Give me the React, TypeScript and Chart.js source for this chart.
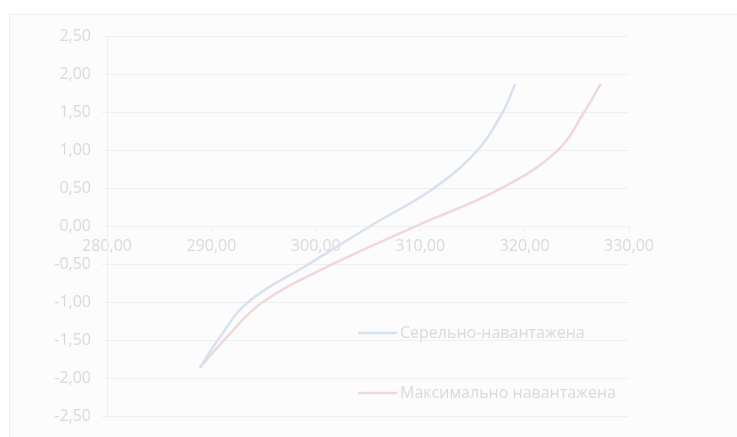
import React, { useEffect, useRef } from "react";
import { Chart, registerables } from "chart.js";

Chart.register(...registerables);

const seriesNames = ["Серельно-навантажена", "Максимально навантажена"];
const seriesColors = ["#d7e1ef", "#f0d8d8"];

const blueX = [288.9, 290.6, 293.5, 299.3, 305.2, 311.3, 315.5, 317.9, 319.1];
const blueY = [-1.86, -1.5, -1.0, -0.5, 0.0, 0.5, 1.0, 1.5, 1.87];
const redX = [288.9, 291.2, 294.9, 301.6, 309.6, 317.8, 323.2, 325.7, 327.3];
const redY = [-1.86, -1.5, -1.0, -0.5, 0.0, 0.5, 1.0, 1.5, 1.87];

const xTicksRange = { min: 280, max: 330, step: 10 };
const yTicksRange = { min: -2.5, max: 2.5, step: 0.5 };

const TEXT = "#d9d9d9";
const GRID = "#efefef";
const FONT = "'Open Sans', sans-serif";

const fmt = (v: number) => v.toFixed(2).replace(".", ",");

const legendPlugin = {
  id: "excelLegend",
  afterDraw(chart: any) {
    const ctx = chart.ctx;
    const rows = [333, 393];
    ctx.save();
    chart.data.datasets.forEach((ds: any, i: number) => {
      const y = rows[i];
      ctx.strokeStyle = ds.borderColor;
      ctx.lineWidth = 2.5;
      ctx.beginPath();
      ctx.moveTo(358, y);
      ctx.lineTo(397, y);
      ctx.stroke();
      ctx.fillStyle = TEXT;
      ctx.font = `16px ${FONT}`;
      ctx.textBaseline = "middle";
      ctx.textAlign = "left";
      ctx.fillText(ds.label, 400, y);
    });
    ctx.restore();
  },
};

export default function App() {
  const ref = useRef<HTMLCanvasElement | null>(null);
  useEffect(() => {
    if (!ref.current) return;
    const mk = (xs: number[], ys: number[]) => xs.map((x, i) => ({ x, y: ys[i] }));
    const chart = new Chart(ref.current, {
      type: "scatter",
      data: {
        datasets: [
          {
            label: seriesNames[0],
            data: mk(blueX, blueY),
            borderColor: seriesColors[0],
            backgroundColor: seriesColors[0],
            showLine: true,
            borderWidth: 2.5,
            pointRadius: 0,
            tension: 0.4,
          },
          {
            label: seriesNames[1],
            data: mk(redX, redY),
            borderColor: seriesColors[1],
            backgroundColor: seriesColors[1],
            showLine: true,
            borderWidth: 2.5,
            pointRadius: 0,
            tension: 0.4,
          },
        ],
      },
      options: {
        animation: false,
        responsive: false,
        maintainAspectRatio: false,
        layout: { padding: { left: 0, top: 36, right: 108, bottom: 19 } },
        plugins: { legend: { display: false }, tooltip: { enabled: false } },
        scales: {
          x: {
            type: "linear",
            position: { y: 0 } as any,
            min: xTicksRange.min,
            max: xTicksRange.max,
            ticks: {
              stepSize: xTicksRange.step,
              color: TEXT,
              font: { family: FONT, size: 16 },
              padding: 6,
              maxRotation: 0,
              callback: (v: any) => fmt(Number(v)),
            },
            grid: { drawOnChartArea: false, drawTicks: true, tickLength: 5, color: GRID },
            border: { display: true, color: GRID, width: 1 },
          },
          y: {
            type: "linear",
            position: "left",
            min: yTicksRange.min,
            max: yTicksRange.max,
            afterFit: (s: any) => {
              s.width = 107;
            },
            ticks: {
              stepSize: yTicksRange.step,
              color: TEXT,
              font: { family: FONT, size: 16 },
              padding: 11,
              callback: (v: any) => fmt(Number(v)),
            },
            grid: { color: GRID, drawTicks: true, tickLength: 5 },
            border: { display: true, color: GRID, width: 1 },
          },
        },
      },
      plugins: [legendPlugin],
    });
    return () => chart.destroy();
  }, []);
  return (
    <div style={{ position: "absolute", left: 0, top: 0, width: 737, height: 437, background: "#ffffff", overflow: "hidden" }}>
      <div
        style={{
          position: "absolute",
          left: 9,
          top: 14,
          width: 760,
          height: 460,
          border: "1px solid #efefef",
          background: "#fcfcfc",
        }}
      />
      <canvas ref={ref} width={737} height={437} style={{ position: "absolute", left: 0, top: 0 }} />
    </div>
  );
}
